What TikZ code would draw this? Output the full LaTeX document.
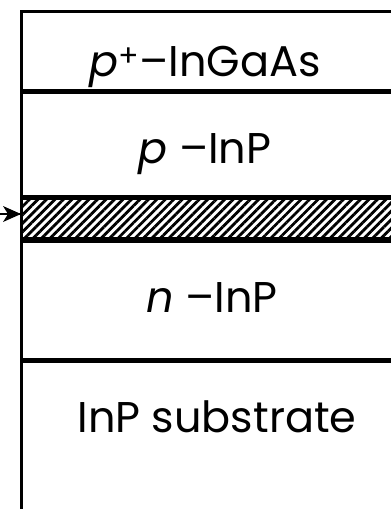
\documentclass[tikz,border=0pt]{standalone}
\usepackage{fontspec}
\newfontfamily\layerfont{Poppins}
\usetikzlibrary{positioning, arrows.meta, patterns.meta}

\begin{document}
\begin{tikzpicture}[
  x=1pt, y=-1pt,
  layer/.style  = {draw, line width=2.6pt, anchor=north west, inner sep=0pt, minimum width=430pt},
  active/.style = {layer, pattern={Lines[angle=45, distance=6pt, line width=2.8pt]}},
  lbl/.style    = {font=\layerfont\fontsize{43}{43}\selectfont, anchor=base, inner sep=0pt},
  arr/.style    = {line width=2.4pt},
]
  \useasboundingbox (0,0) rectangle (391,509);
  \clip (0,0) rectangle (391,509);
  % layer stack
  \node[layer,  minimum height=79pt]  (cap)  at (20,10)          {};
  \node[layer,  minimum height=103pt] (pcl)  at (cap.south west) {};
  \node[active, minimum height=40pt]  (act)  at (pcl.south west) {};
  \node[layer,  minimum height=118pt] (ncl)  at (act.south west) {};
  \node[layer,  minimum height=157pt] (sub)  at (ncl.south west) {};
  % labels
  \node[lbl] (capl) at (205,76)  {{\itshape p}\textsuperscript{+}–InGaAs};
  \node[lbl] (pcll) at (205,163) {{\itshape p} –InP};
  \node[lbl] (ncll) at (212,312) {{\itshape n} –InP};
  \node[lbl] (subl) at (217,432) {InP substrate};
  % light in
  \coordinate (src) at (-4,214);
  \coordinate (tip) at (21,214);
  \draw[arr] (src) -- (tip);
  \fill (tip) -- ++(-18,-8) -- ++(5,8) -- ++(-5,8) -- cycle;
\end{tikzpicture}
\end{document}
